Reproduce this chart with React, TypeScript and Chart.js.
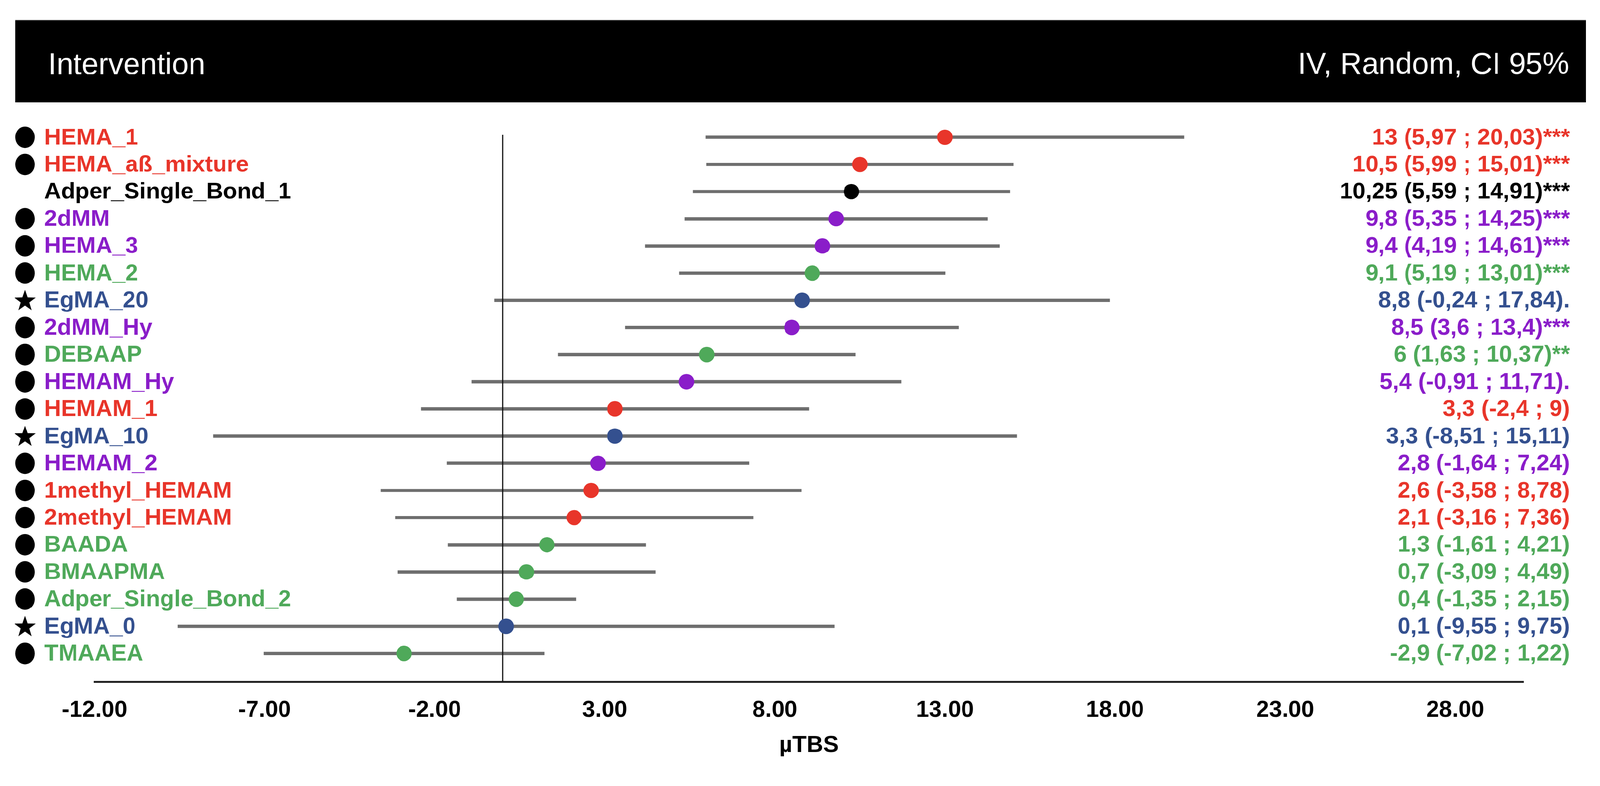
import React, { useEffect, useRef } from 'react';
import { Chart, registerables } from 'chart.js';

Chart.register(...registerables);

// ---------- data ----------
const names = [
  'HEMA_1', 'HEMA_aß_mixture', 'Adper_Single_Bond_1', '2dMM', 'HEMA_3', 'HEMA_2', 'EgMA_20',
  '2dMM_Hy', 'DEBAAP', 'HEMAM_Hy', 'HEMAM_1', 'EgMA_10', 'HEMAM_2', '1methyl_HEMAM',
  '2methyl_HEMAM', 'BAADA', 'BMAAPMA', 'Adper_Single_Bond_2', 'EgMA_0', 'TMAAEA',
];
const means = [13, 10.5, 10.25, 9.8, 9.4, 9.1, 8.8, 8.5, 6, 5.4, 3.3, 3.3, 2.8, 2.6, 2.1, 1.3, 0.7, 0.4, 0.1, -2.9];
const lowers = [5.97, 5.99, 5.59, 5.35, 4.19, 5.19, -0.24, 3.6, 1.63, -0.91, -2.4, -8.51, -1.64, -3.58, -3.16, -1.61, -3.09, -1.35, -9.55, -7.02];
const uppers = [20.03, 15.01, 14.91, 14.25, 14.61, 13.01, 17.84, 13.4, 10.37, 11.71, 9, 15.11, 7.24, 8.78, 7.36, 4.21, 4.49, 2.15, 9.75, 1.22];
const groups = [
  'red', 'red', 'black', 'purple', 'purple', 'green', 'blue', 'purple', 'green', 'purple',
  'red', 'blue', 'purple', 'red', 'red', 'green', 'green', 'green', 'blue', 'green',
];
const symbols = [
  'circle', 'circle', 'none', 'circle', 'circle', 'circle', 'star', 'circle', 'circle', 'circle',
  'circle', 'star', 'circle', 'circle', 'circle', 'circle', 'circle', 'circle', 'star', 'circle',
];
const significance = ['***', '***', '***', '***', '***', '***', '.', '***', '**', '.', '', '', '', '', '', '', '', '', '', ''];
const xTickValues = [-12, -7, -2, 3, 8, 13, 18, 23, 28];
const xMin = -12;
const xMax = 30;
const xTitle = 'µTBS';
const headerLeft = 'Intervention';
const headerRight = 'IV, Random, CI 95%';

// ---------- styles ----------
const palette: Record<string, string> = {
  red: '#e8352a',
  purple: '#8a1dc9',
  green: '#4fa95a',
  blue: '#34508f',
  black: '#000000',
};
const FONT = '"Liberation Sans", Arial, Helvetica, sans-serif';
const W = 4150;
const H = 2012;

const fmt = (v: number) => String(v).replace('.', ',');

const forestPlugin = {
  id: 'forestDecor',
  beforeDraw(chart: any) {
    const ctx = chart.ctx;
    ctx.save();
    ctx.fillStyle = '#fff';
    ctx.fillRect(0, 0, W, H);
    ctx.fillStyle = '#000';
    ctx.fillRect(40, 52, 4074, 213);
    ctx.strokeStyle = '#444';
    ctx.lineWidth = 2;
    ctx.beginPath();
    ctx.moveTo(40, 53);
    ctx.lineTo(4114, 53);
    ctx.stroke();
    ctx.fillStyle = '#fff';
    ctx.font = `78px ${FONT}`;
    ctx.textBaseline = 'alphabetic';
    ctx.textAlign = 'left';
    ctx.fillText(headerLeft, 125, 192);
    ctx.textAlign = 'right';
    ctx.fillText(headerRight, 4070, 191);
    ctx.restore();
  },
  afterDatasetDraw(chart: any, args: any) {
    if (args.index !== 0) return;
    const ctx = chart.ctx;
    const xs = chart.scales.x;
    const area = chart.chartArea;
    const x0 = xs.getPixelForValue(0);
    ctx.save();
    ctx.strokeStyle = '#111';
    ctx.lineWidth = 3;
    ctx.beginPath();
    ctx.moveTo(x0, area.top);
    ctx.lineTo(x0, area.bottom);
    ctx.stroke();
    ctx.restore();
  },
  afterDraw(chart: any) {
    const ctx = chart.ctx;
    const ys = chart.scales.y;
    ctx.save();
    ctx.font = `bold 60px ${FONT}`;
    ctx.textBaseline = 'middle';
    names.forEach((name, i) => {
      const y = ys.getPixelForValue(i);
      const color = palette[groups[i]];
      ctx.fillStyle = '#000';
      if (symbols[i] === 'circle') {
        ctx.beginPath();
        ctx.ellipse(65, y, 25, 28, 0, 0, Math.PI * 2);
        ctx.fill();
      } else if (symbols[i] === 'star') {
        const R = 29;
        const cy = y + 2;
        ctx.beginPath();
        for (let k = 0; k < 10; k++) {
          const r = k % 2 === 0 ? R : R * 0.4;
          const a = -Math.PI / 2 + (k * Math.PI) / 5;
          const px = 65 + r * Math.cos(a);
          const py = cy + r * Math.sin(a);
          if (k === 0) ctx.moveTo(px, py);
          else ctx.lineTo(px, py);
        }
        ctx.closePath();
        ctx.fill();
      }
      ctx.fillStyle = color;
      ctx.textAlign = 'left';
      ctx.fillText(name, 115, y + 2);
      const txt = `${fmt(means[i])} (${fmt(lowers[i])} ; ${fmt(uppers[i])})${significance[i]}`;
      ctx.textAlign = 'right';
      ctx.fillText(txt, 4072, y + 2);
    });
    ctx.restore();
  },
};

export default function App() {
  const canvasRef = useRef<HTMLCanvasElement | null>(null);
  const vw = typeof window !== 'undefined' ? window.innerWidth : W;
  const vh = typeof window !== 'undefined' ? window.innerHeight : H;
  const s = Math.min(vw / W, vh / H) || 1;

  useEffect(() => {
    const canvas = canvasRef.current;
    if (!canvas) return;
    const chart = new Chart(canvas, {
      type: 'bar',
      data: {
        datasets: [
          {
            type: 'bar',
            label: 'CI',
            data: names.map((_, i) => ({ x: [lowers[i], uppers[i]], y: i })) as any,
            backgroundColor: '#6e6e6e',
            borderWidth: 0,
            barThickness: 8,
            clip: false,
            order: 2,
          } as any,
          {
            type: 'scatter',
            label: 'Estimate',
            data: names.map((_, i) => ({ x: means[i], y: i })),
            pointRadius: 20,
            pointHoverRadius: 20,
            pointBorderWidth: 0,
            pointBackgroundColor: groups.map((g) => palette[g]),
            pointBorderColor: groups.map((g) => palette[g]),
            clip: false,
            order: 1,
          } as any,
        ],
      },
      options: {
        indexAxis: 'y',
        responsive: false,
        animation: false,
        layout: {
          padding: { left: 245, right: W - 3951, top: 350, bottom: 24 },
        },
        plugins: {
          legend: { display: false },
          tooltip: { enabled: false },
          title: { display: false },
        },
        scales: {
          y: {
            type: 'linear',
            display: false,
            reverse: true,
            offset: false,
            min: -0.085,
            max: 20.04,
          },
          x: {
            type: 'linear',
            position: 'bottom',
            min: xMin,
            max: xMax,
            offset: false,
            afterBuildTicks: (axis: any) => {
              axis.ticks = xTickValues.map((v) => ({ value: v }));
            },
            afterFit: (axis: any) => {
              axis.height = 220;
            },
            grid: { display: false },
            border: { display: true, color: '#222', width: 5 },
            ticks: {
              padding: 30,
              autoSkip: false,
              maxRotation: 0,
              color: '#000',
              font: { family: FONT, size: 60, weight: 'bold' },
              callback: (v: any) => Number(v).toFixed(2),
            },
            title: {
              display: true,
              text: xTitle,
              color: '#000',
              font: { family: FONT, size: 60, weight: 'bold' },
              padding: { top: 0, bottom: 19 },
            },
          },
        },
      } as any,
      plugins: [forestPlugin],
    });
    return () => chart.destroy();
  }, []);

  return (
    <div
      style={{
        position: 'fixed',
        left: 0,
        top: 0,
        width: W,
        height: H,
        background: '#fff',
        transform: `scale(${s})`,
        transformOrigin: '0 0',
        overflow: 'hidden',
      }}
    >
      <canvas ref={canvasRef} width={W} height={H} style={{ width: W, height: H, display: 'block' }} />
    </div>
  );
}
